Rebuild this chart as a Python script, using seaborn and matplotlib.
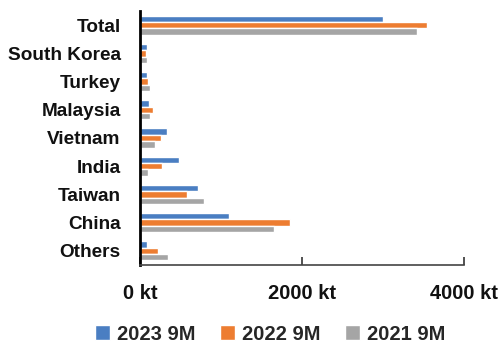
import matplotlib
matplotlib.use("Agg")
import matplotlib.pyplot as plt
import seaborn as sns
import pandas as pd

countries = ["Total", "South Korea", "Turkey", "Malaysia", "Vietnam", "India", "Taiwan", "China", "Others"]
series_names = ["2023 9M", "2022 9M", "2021 9M"]
v2023 = [3000, 82, 86, 107, 330, 480, 712, 1095, 86]
v2022 = [3540, 74, 103, 160, 259, 272, 576, 1848, 226]
v2021 = [3420, 86, 120, 120, 189, 99, 786, 1658, 342]
xticks = [0, 2000, 4000]
xtick_labels = ["0 kt", "2000 kt", "4000 kt"]
colors = ["#4A7EC2", "#ED7D31", "#A5A5A5"]

rows = []
for name, vals in zip(series_names, [v2023, v2022, v2021]):
    for c, v in zip(countries, vals):
        rows.append({"country": c, "value": v, "series": name})
df = pd.DataFrame(rows)

sns.set_theme(style="white")
plt.rcParams["font.family"] = ["Liberation Sans", "DejaVu Sans"]
plt.rcParams["font.weight"] = "bold"

fig = plt.figure(figsize=(5.03, 3.45), dpi=100)
ax = fig.add_axes([140/503, 1-265/345, (464-140)/503, (265-11)/345])

sns.barplot(data=df, y="country", x="value", hue="series", order=countries,
            hue_order=series_names, palette=colors, orient="h", width=0.68,
            saturation=1, ax=ax, legend=True)

ax.set_xlim(0, 4000)
ax.set_xticks(xticks)
ax.set_xticklabels(xtick_labels, fontsize=14.5, fontweight="bold", color="#111111")
for lbl in ax.get_yticklabels():
    lbl.set_fontsize(13.7)
    lbl.set_fontweight("bold")
    lbl.set_color("#111111")
ax.set_xlabel("")
ax.set_ylabel("")
ax.tick_params(axis="x", direction="in", length=6, width=1.2, color="#333333", pad=14, bottom=True)
ax.tick_params(axis="y", length=0, pad=14)
for s in ["top", "right"]:
    ax.spines[s].set_visible(False)
ax.spines["left"].set_color("black")
ax.spines["left"].set_linewidth(2)
ax.spines["bottom"].set_color("#444444")
ax.spines["bottom"].set_linewidth(1.2)

ax.get_legend().remove()
handles, labels = ax.get_legend_handles_labels()
fig.legend(handles, labels, loc="center", bbox_to_anchor=(0.537, 1-334/345), ncol=3,
           frameon=False, handlelength=0.75, handleheight=0.75, handletextpad=0.35,
           columnspacing=1.2, prop={"size": 14.5, "weight": "bold"})

fig.savefig("out.png", dpi=100)
